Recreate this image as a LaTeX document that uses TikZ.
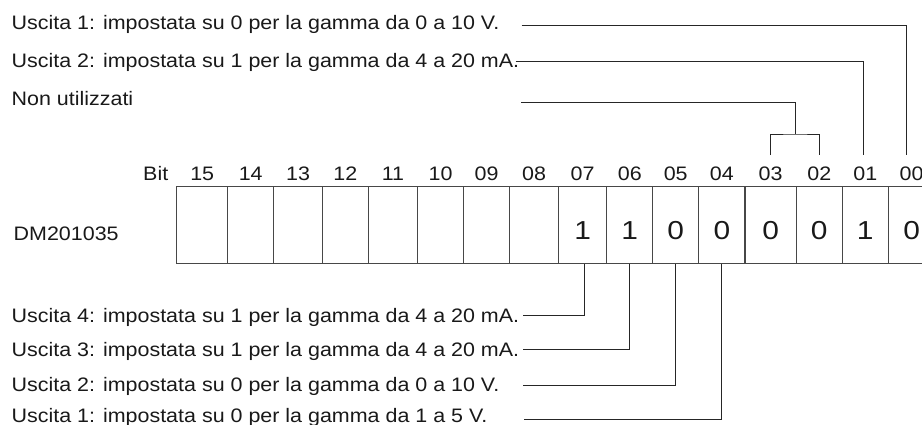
\documentclass[tikz,border=0pt]{standalone}
\usepackage{fontspec}
\setmainfont{Liberation Sans}
\usepackage{graphicx}
\newcommand{\tx}[1]{\scalebox{1.10}[1]{#1}}
\newcommand{\dg}[1]{\scalebox{1.15}[1]{#1}}
\begin{document}
\begin{tikzpicture}[x=1bp,y=-1bp,
  txt/.style={anchor=base west, inner sep=0pt, font=\fontsize{19.5bp}{22bp}\selectfont, text=black!90},
  bitlbl/.style={anchor=base, inner sep=0pt, font=\fontsize{19.5bp}{22bp}\selectfont, text=black!90},
  cell/.style={draw=black!72, line width=1.1bp, inner sep=0pt, minimum height=76.6bp,
    text height=28.6bp, text depth=0pt, font=\fontsize{26bp}{30bp}\selectfont, text=black!90},
  conn/.style={draw=black!85, line width=0.9bp}]
\useasboundingbox (0,0) rectangle (922,424);
\clip (0,0) rectangle (922,424);

% texts
\node[txt] (t1) at (11.5,29.5) {\tx{Uscita 1: impostata su 0 per la gamma da 0 a 10 V.}};
\node[txt] (t2) at (11.5,67.5) {\tx{Uscita 2: impostata su 1 per la gamma da 4 a 20 mA.}};
\node[txt] (t3) at (11.5,105) {\tx{Non utilizzati}};
\node[txt] (bit) at (143,180) {\tx{Bit}};
\node[txt] (dm) at (13.5,240.5) {\tx{DM201035}};
\node[txt] (b1) at (11.5,322) {\tx{Uscita 4: impostata su 1 per la gamma da 4 a 20 mA.}};
\node[txt] (b2) at (11.5,356.5) {\tx{Uscita 3: impostata su 1 per la gamma da 4 a 20 mA.}};
\node[txt] (b3) at (11.5,391.5) {\tx{Uscita 2: impostata su 0 per la gamma da 0 a 10 V.}};
\node[txt] (b4) at (11.5,422) {\tx{Uscita 1: impostata su 0 per la gamma da 1 a 5 V.}};

% cells
\node[cell, minimum width=51bp]   (c15) at (202.2,225) {};
\node[cell, minimum width=46bp]   (c14) at (250.7,225) {};
\node[cell, minimum width=48.6bp] (c13) at (298,225) {};
\node[cell, minimum width=46.2bp] (c12) at (345.4,225) {};
\node[cell, minimum width=49bp]   (c11) at (393,225) {};
\node[cell, minimum width=46bp]   (c10) at (440.5,225) {};
\node[cell, minimum width=46bp]   (c09) at (486.5,225) {};
\node[cell, minimum width=49bp]   (c08) at (534,225) {};
\node[cell, minimum width=48.3bp] (c07) at (582.65,225) {\dg{1}};
\node[cell, minimum width=45.9bp] (c06) at (629.75,225) {\dg{1}};
\node[cell, minimum width=46bp]   (c05) at (675.7,225) {\dg{0}};
\node[cell, minimum width=46.3bp] (c04) at (721.85,225) {\dg{0}};
\node[cell, minimum width=51.3bp] (c03) at (770.65,225) {\dg{0}};
\node[cell, minimum width=46bp]   (c02) at (819.3,225) {\dg{0}};
\node[cell, minimum width=46bp]   (c01) at (865.3,225) {\dg{1}};
\node[cell, minimum width=46.7bp] (c00) at (911.65,225) {\dg{0}};

% bit labels
\foreach \n/\x in {15/202.2,14/250.7,13/298,12/345.4,11/393,10/440.5,09/486.5,08/534,
                   07/582.65,06/629.75,05/675.7,04/721.85,03/770.65,02/819.3,01/865.3,00/911.65}
  \node[bitlbl] (l\n) at (\x,180) {\tx{\n}};

% connector coordinates
\coordinate (a1) at (521.7,25.5);
\coordinate (a2) at (515.7,61);
\coordinate (a3) at (521,102.3);
\coordinate (e00) at (906,155);
\coordinate (e01) at (863.3,155);
\coordinate (j)   at (795.7,134);
\coordinate (e03) at (770.3,155);
\coordinate (e02) at (819,155);
\coordinate (s1) at (523.3,315);
\coordinate (s2) at (523.3,349.3);
\coordinate (s3) at (523.3,385);
\coordinate (s4) at (524.3,419.3);

% top connectors
\draw[conn] (a1) -| (e00);
\draw[conn] (a2) -| (e01);
\draw[conn] (a3) -| (j);
\draw[conn] (e03) |- (j) -| (e02);

% bottom connectors
\draw[conn] ([xshift=1.6bp]c07.south) |- (s1);
\draw[conn] (c06.south) |- (s2);
\draw[conn] (c05.south) |- (s3);
\draw[conn] (c04.south) |- (s4);
\end{tikzpicture}
\end{document}
